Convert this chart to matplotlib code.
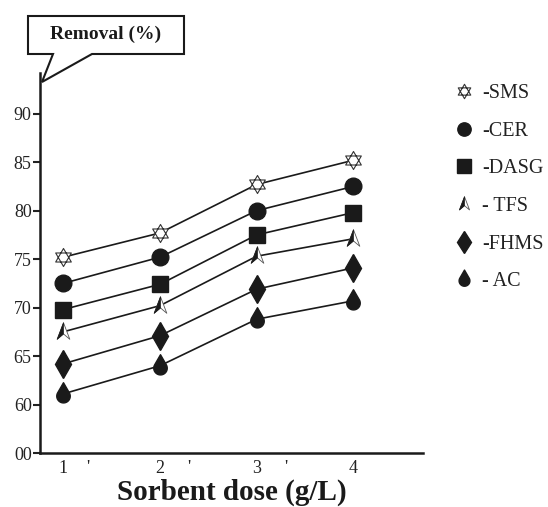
import numpy as np
import matplotlib
matplotlib.use('Agg')
import matplotlib.pyplot as plt
from matplotlib.path import Path
from matplotlib.patches import Polygon

plt.rcParams['font.family'] = ['Liberation Serif', 'DejaVu Serif']

dose = [1, 2, 3, 4]
sms = [75.2, 77.7, 82.7, 85.2]
cer = [72.5, 75.2, 80.0, 82.5]
dasg = [69.8, 72.4, 77.5, 79.8]
tfs = [67.5, 70.2, 75.3, 77.1]
fhms = [64.2, 67.1, 71.9, 74.1]
ac = [61.1, 64.0, 68.8, 70.7]

labels = ['-SMS', '-CER', '-DASG', '- TFS', '-FHMS', '- AC']
yticks = [55, 60, 65, 70, 75, 80, 85, 90]
ytick_labels = ['00', '60', '65', '70', '75', '80', '85', '90']
xticks = [1, 2, 3, 4]
xtick_labels = ['1', '2', '3', '4']
minor_x = [1.25, 2.3, 3.3]

# marker shapes
def star_path():
    a = np.deg2rad([90, 210, 330])
    b = np.deg2rad([270, 30, 150])
    v = []
    codes = []
    for ang in (a, b):
        pts = list(zip(np.cos(ang), np.sin(ang)))
        v += pts + [pts[0]]
        codes += [Path.MOVETO, Path.LINETO, Path.LINETO, Path.CLOSEPOLY]
    return Path(v, codes)

arrow_full = Path([(0, 1), (0.65, -0.7), (0, -0.15), (-0.65, -0.7), (0, 1)],
                  [Path.MOVETO, Path.LINETO, Path.LINETO, Path.LINETO, Path.CLOSEPOLY])
arrow_half = Path([(0, 1), (0, -0.15), (-0.65, -0.7), (0, 1)],
                  [Path.MOVETO, Path.LINETO, Path.LINETO, Path.CLOSEPOLY])

# teardrop: round bottom, pointed top
t = np.deg2rad(np.linspace(150, 390, 40))
drop_v = [(0, 1.4)] + list(zip(0.8 * np.cos(t), 0.8 * np.sin(t) - 0.2)) + [(0, 1.4)]
drop_c = [Path.MOVETO] + [Path.LINETO] * (len(drop_v) - 2) + [Path.CLOSEPOLY]
drop = Path(drop_v, drop_c)

fig = plt.figure(figsize=(5.48, 5.07), dpi=100)
ax = fig.add_axes([40 / 548, 1 - 453 / 507, 383 / 548, 380 / 507])

for y in [sms, cer, dasg, tfs, fhms, ac]:
    ax.plot(dose, y, color='#1a1a1a', lw=1.2, zorder=2)

h = []
h.append(ax.plot(dose, sms, ls='none', marker=star_path(), ms=13, mfc='white',
                 mec='#333333', mew=0.8, zorder=3)[0])
h.append(ax.plot(dose, cer, ls='none', marker='o', ms=12, color='#1a1a1a', zorder=3)[0])
h.append(ax.plot(dose, dasg, ls='none', marker='s', ms=12, color='#1a1a1a', zorder=3)[0])
t1 = ax.plot(dose, tfs, ls='none', marker=arrow_full, ms=14, mfc='white',
             mec='#555555', mew=0.6, zorder=3)[0]
t2 = ax.plot(dose, tfs, ls='none', marker=arrow_half, ms=14, mfc='#1a1a1a',
             mec='#1a1a1a', mew=0.5, zorder=4)[0]
h.append((t1, t2))
h.append(ax.plot(dose, fhms, ls='none', marker='d', ms=14, color='#1a1a1a', zorder=3)[0])
h.append(ax.plot(dose, ac, ls='none', marker=drop, ms=17, color='#1a1a1a', zorder=3)[0])

ax.set_xlim(0.76, 4.72)
ax.set_ylim(55, 94.2)
ax.set_yticks(yticks)
ax.set_yticklabels(ytick_labels)
ax.set_xticks(xticks)
ax.set_xticklabels(xtick_labels)
ax.set_xticks(minor_x, minor=True)
ax.set_xticklabels(["'"] * len(minor_x), minor=True)
ax.tick_params(axis='x', which='both', length=0, labelsize=13, pad=5, colors='#222222')
ax.tick_params(axis='y', length=5, width=1.5, labelsize=13, pad=1, colors='#222222')
for s in ['top', 'right']:
    ax.spines[s].set_visible(False)
for s in ['left', 'bottom']:
    ax.spines[s].set_linewidth(1.8)
    ax.spines[s].set_color('#1a1a1a')

ax.set_xlabel('Sorbent dose (g/L)', fontsize=21, fontweight='bold', labelpad=1, color='#1a1a1a')

leg = fig.legend(h, labels, loc='upper left', bbox_to_anchor=(446 / 548, 1 - 76 / 507),
                 frameon=False, fontsize=14.5, labelspacing=0.92, handlelength=1.0,
                 handletextpad=0.4, markerscale=0.8, borderaxespad=0)
for txt in leg.get_texts():
    txt.set_color('#222222')

# callout box for the y label
px = lambda x, y: (x / 548, 1 - y / 507)
box = [px(28, 16), px(184, 16), px(184, 54), px(92, 54), px(42, 82), px(53, 54), px(28, 54)]
fig.patches.append(Polygon(box, closed=True, fill=False, ec='#1a1a1a', lw=1.5,
                           transform=fig.transFigure))
fig.text(106 / 548, 1 - 34 / 507, 'Removal (%)', ha='center', va='center',
         fontsize=14, fontweight='bold', color='#1a1a1a')

fig.savefig('out.png', dpi=100)
